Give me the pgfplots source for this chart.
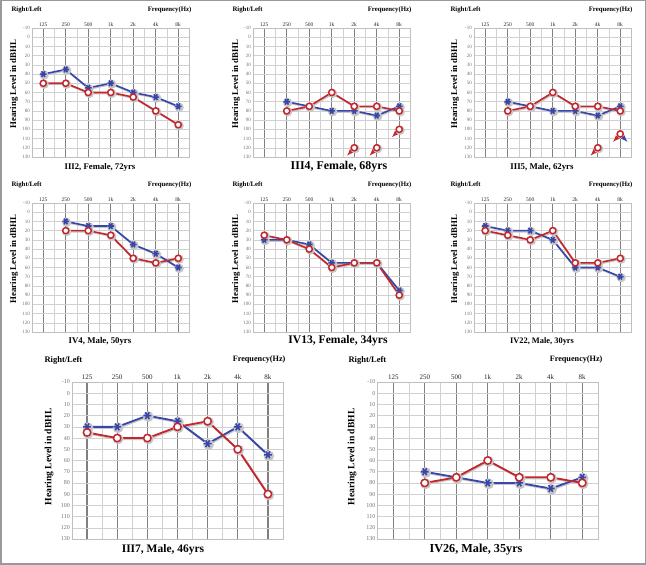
\documentclass[border=0pt]{standalone}
\usepackage{fontspec}
\setmainfont{Liberation Serif}
\usepackage{pgfplots}
\pgfplotsset{compat=1.18}
\definecolor{bl}{RGB}{55,70,170}
\definecolor{rd}{RGB}{195,38,44}
\pgfplotsset{
 aud/.style={
   scale only axis, width=157.5pt, height=129pt,
   anchor=south west,
   y dir=reverse, ymin=-10, ymax=130,
   ytick={-10,0,...,130},
   minor ytick={-10,0,...,130},
   xmin=-0.5, xmax=6.5,
   xtick={0,...,6}, xticklabels={125,250,500,1k,2k,4k,8k},
   minor xtick={0.5,1.5,...,5.5},
   xticklabel pos=upper,
   xmajorgrids=true, xminorgrids=true, yminorgrids=true, ymajorgrids=false,
   major grid style={black!50, line width=1.2pt},
   minor grid style={black!18, line width=0.5pt},
   axis line style={black!25, line width=0.5pt},
   major tick length=0pt, minor tick length=0pt,
   /pgf/number format/assume math mode=true,
   xticklabel style={font=\fontsize{5.5}{6}\selectfont, text=black!85, inner sep=1.5pt},
   yticklabel style={font=\fontsize{5}{6}\selectfont, text=black!55, inner sep=2pt},
   clip=false,
 },
 big/.style={height=157pt,
   xticklabel style={font=\fontsize{7}{8}\selectfont, inner sep=2pt},
   yticklabel style={font=\fontsize{6}{7}\selectfont}},
 L/.style={color=bl, line width=1.6pt, mark=asterisk, mark size=3.3pt, mark options={rotate=90, line width=1.6pt, solid}},
 R/.style={color=rd, line width=1.6pt, mark=*, mark size=3.1pt, mark options={fill=white, draw=rd, line width=1.5pt, solid}},
 LB/.style={L, mark size=3.9pt, line width=1.8pt},
 RB/.style={R, mark size=3.7pt, line width=1.8pt},
 SH/.style={black!22, line width=2pt, mark=*, mark size=3.6pt, mark options={fill=black!22, draw=black!22}, xshift=0.9pt, yshift=-0.9pt, forget plot},
 SHB/.style={SH, mark size=4.2pt, line width=2.2pt},
}
\newcommand{\rl}[2]{\node[anchor=west, font=\bfseries\fontsize{6.8}{8}\selectfont] at (#1pt,#2pt) {Right/Left};}
\newcommand{\fq}[2]{\node[anchor=east, font=\bfseries\fontsize{6.8}{8}\selectfont] at (#1pt,#2pt) {Frequency(Hz)};}
\newcommand{\yl}[3]{\node[rotate=90, font=\bfseries\fontsize{#3}{10}\selectfont] at (#1pt,#2pt) {Hearing Level in dBHL};}
\newcommand{\ttl}[4]{\node[font=\bfseries\fontsize{#3}{13}\selectfont] at (#1pt,#2pt) {#4};}
\begin{document}
\begin{tikzpicture}
\path[use as bounding box] (0pt,0pt) rectangle (646pt,565pt);
\draw[black!40, line width=1.5pt] (0.75pt,0.75pt) rectangle (645.25pt,564.25pt);

% Panel 1
\begin{axis}[aud, at={(32pt,408pt)}]
\addplot[SH] coordinates {(0,40)(1,35)(2,55)(3,50)(4,60)(5,65)(6,75)};
\addplot[SH] coordinates {(0,50)(1,50)(2,60)(3,60)(4,65)(5,80)(6,95)};
\addplot[L] coordinates {(0,40)(1,35)(2,55)(3,50)(4,60)(5,65)(6,75)};
\addplot[R] coordinates {(0,50)(1,50)(2,60)(3,60)(4,65)(5,80)(6,95)};
\end{axis}
% Panel 2
\begin{axis}[aud, at={(253pt,408pt)}]
\addplot[SH] coordinates {(1,70)(2,75)(3,80)(4,80)(5,85)(6,75)};
\addplot[SH] coordinates {(1,80)(2,75)(3,60)(4,75)(5,75)(6,80)};
\addplot[L] coordinates {(1,70)(2,75)(3,80)(4,80)(5,85)(6,75)};
\addplot[R] coordinates {(1,80)(2,75)(3,60)(4,75)(5,75)(6,80)};
\addplot[color=rd, line width=1.3pt, -latex, no marks, quiver={u=\thisrow{u}, v=\thisrow{v}}] table {
x y u v
3.88 123.5 -0.2 5
4.88 123.5 -0.2 5
5.88 103.5 -0.2 5
};
\addplot[SH, only marks] coordinates {(4,120)(5,120)(6,100)};
\addplot[R, only marks] coordinates {(4,120)(5,120)(6,100)};
\end{axis}
% Panel 3
\begin{axis}[aud, at={(474pt,408pt)}]
\addplot[SH] coordinates {(1,70)(2,75)(3,80)(4,80)(5,85)(6,75)};
\addplot[SH] coordinates {(1,80)(2,75)(3,60)(4,75)(5,75)(6,80)};
\addplot[L] coordinates {(1,70)(2,75)(3,80)(4,80)(5,85)(6,75)};
\addplot[R] coordinates {(1,80)(2,75)(3,60)(4,75)(5,75)(6,80)};
\addplot[color=bl, line width=1.3pt, -latex, no marks, quiver={u=\thisrow{u}, v=\thisrow{v}}] table {
x y u v
6.12 108.5 0.2 5
};
\addplot[L, only marks] coordinates {(6,105)};
\addplot[color=rd, line width=1.3pt, -latex, no marks, quiver={u=\thisrow{u}, v=\thisrow{v}}] table {
x y u v
4.88 123.5 -0.2 5
5.88 108.5 -0.2 5
};
\addplot[SH, only marks] coordinates {(5,120)};
\addplot[R, only marks] coordinates {(5,120)(6,105)};
\end{axis}
% Panel 4
\begin{axis}[aud, at={(32pt,233pt)}]
\addplot[SH] coordinates {(1,10)(2,15)(3,15)(4,35)(5,45)(6,60)};
\addplot[SH] coordinates {(1,20)(2,20)(3,25)(4,50)(5,55)(6,50)};
\addplot[L] coordinates {(1,10)(2,15)(3,15)(4,35)(5,45)(6,60)};
\addplot[R] coordinates {(1,20)(2,20)(3,25)(4,50)(5,55)(6,50)};
\end{axis}
% Panel 5
\begin{axis}[aud, at={(253pt,233pt)}]
\addplot[SH] coordinates {(0,30)(1,30)(2,35)(3,55)(4,55)(5,55)(6,85)};
\addplot[SH] coordinates {(0,25)(1,30)(2,40)(3,60)(4,55)(5,55)(6,90)};
\addplot[L] coordinates {(0,30)(1,30)(2,35)(3,55)(4,55)(5,55)(6,85)};
\addplot[R] coordinates {(0,25)(1,30)(2,40)(3,60)(4,55)(5,55)(6,90)};
\end{axis}
% Panel 6
\begin{axis}[aud, at={(474pt,233pt)}]
\addplot[SH] coordinates {(0,15)(1,20)(2,20)(3,30)(4,60)(5,60)(6,70)};
\addplot[SH] coordinates {(0,20)(1,25)(2,30)(3,20)(4,55)(5,55)(6,50)};
\addplot[L] coordinates {(0,15)(1,20)(2,20)(3,30)(4,60)(5,60)(6,70)};
\addplot[R] coordinates {(0,20)(1,25)(2,30)(3,20)(4,55)(5,55)(6,50)};
\end{axis}
% Panel 7
\begin{axis}[aud, big, width=211pt, at={(72pt,26pt)}]
\addplot[SHB] coordinates {(0,30)(1,30)(2,20)(3,25)(4,45)(5,30)(6,55)};
\addplot[SHB] coordinates {(0,35)(1,40)(2,40)(3,30)(4,25)(5,50)(6,90)};
\addplot[LB] coordinates {(0,30)(1,30)(2,20)(3,25)(4,45)(5,30)(6,55)};
\addplot[RB] coordinates {(0,35)(1,40)(2,40)(3,30)(4,25)(5,50)(6,90)};
\end{axis}
% Panel 8
\begin{axis}[aud, big, width=220.5pt, at={(377.5pt,26pt)}]
\addplot[SHB] coordinates {(1,70)(2,75)(3,80)(4,80)(5,85)(6,75)};
\addplot[SHB] coordinates {(1,80)(2,75)(3,60)(4,75)(5,75)(6,80)};
\addplot[LB] coordinates {(1,70)(2,75)(3,80)(4,80)(5,85)(6,75)};
\addplot[RB] coordinates {(1,80)(2,75)(3,60)(4,75)(5,75)(6,80)};
\end{axis}

% texts top row
\rl{8}{555} \fq{195}{555} \yl{14}{481}{8.8} \ttl{100}{398}{8.7}{III2, Female, 72yrs}
\rl{229}{555} \fq{415}{555} \yl{236}{481}{8.8} \ttl{339}{398}{11.9}{III4, Female, 68yrs}
\rl{447}{555} \fq{636}{555} \yl{455}{481}{8.8} \ttl{542}{398}{8.8}{III5, Male, 62yrs}
% middle row
\rl{8}{380} \fq{195}{380} \yl{14}{306}{8.8} \ttl{100}{224}{8.8}{IV4, Male, 50yrs}
\rl{229}{380} \fq{415}{380} \yl{236}{306}{8.8} \ttl{338}{224}{11.6}{IV13, Female, 34yrs}
\rl{447}{380} \fq{636}{380} \yl{455}{306}{8.8} \ttl{542}{224}{8.4}{IV22, Male, 30yrs}
% bottom row
\node[anchor=west, font=\bfseries\fontsize{8.5}{10}\selectfont] at (41pt,205pt) {Right/Left};
\node[anchor=east, font=\bfseries\fontsize{8.2}{10}\selectfont] at (289pt,205pt) {Frequency(Hz)};
\yl{49}{108}{9.6} \ttl{163}{15}{11.5}{III7, Male, 46yrs}
\node[anchor=west, font=\bfseries\fontsize{8.5}{10}\selectfont] at (345pt,205pt) {Right/Left};
\node[anchor=east, font=\bfseries\fontsize{8.2}{10}\selectfont] at (606pt,205pt) {Frequency(Hz)};
\yl{352}{108}{9.6} \ttl{476}{15}{12.2}{IV26, Male, 35yrs}
\end{tikzpicture}
\end{document}
